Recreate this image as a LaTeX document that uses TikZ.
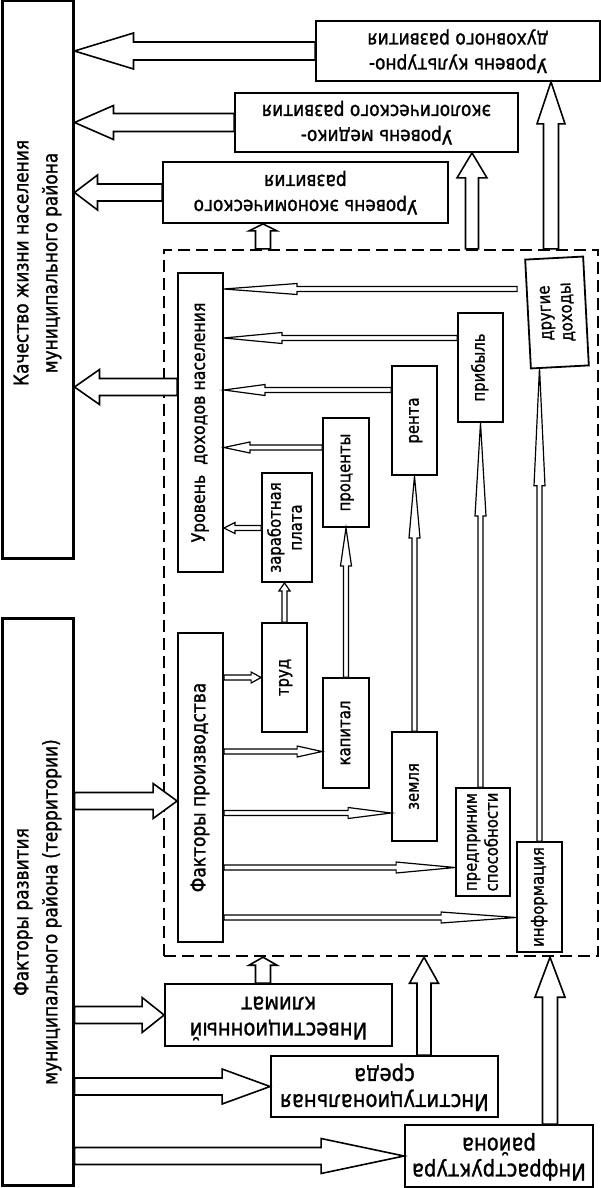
\documentclass[tikz,border=0pt]{standalone}
\usepackage{fontspec}
\setmainfont{DejaVu Sans}[FakeStretch=0.85, FakeBold=1.2]
\usepackage{graphicx}
\usetikzlibrary{calc}
\newcommand{\vlab}[1]{\rotatebox{90}{\begin{tabular}{@{}c@{}}#1\end{tabular}}}
\newcommand{\flab}[1]{\rotatebox{180}{\begin{tabular}{@{}c@{}}#1\end{tabular}}}
\tikzstyle{bar} = [rectangle, draw, line width=3pt, minimum width=71pt, inner sep=0pt]
\tikzstyle{bartext} = [inner sep=0pt, font=\fontsize{20}{29}\selectfont]
\tikzstyle{box} = [rectangle, draw, line width=1.8pt, fill=white, inner sep=0pt, text centered]
\tikzstyle{levelbox} = [box, minimum height=61pt, font=\fontsize{20}{25}\selectfont]
\tikzstyle{basebox} = [levelbox, font=\fontsize{23}{26}\selectfont]
\tikzstyle{incomebox} = [box, minimum width=45pt, font=\fontsize{18.5}{22}\selectfont]
\tikzstyle{smallbox} = [box, minimum width=45pt, minimum height=109pt, font=\fontsize{17.5}{21}\selectfont]
\tikzstyle{zone} = [rectangle, draw, line width=2.4pt, dash pattern=on 12pt off 6pt, minimum width=434pt, minimum height=706pt]
\tikzset{
  head len/.store in=\hdlen, head wd/.store in=\hdwd, shaft wd/.store in=\shwd, tail gap/.store in=\tlgap,
  head len=25, head wd=17.5, shaft wd=8.5, tail gap=0,
  hollow/.style={draw, fill=white, line width=1.6pt, to path={
    let \p1=(\tikztostart), \p2=(\tikztotarget),
        \n1={atan2(\y2-\y1,\x2-\x1)}, \n2={veclen(\x2-\x1,\y2-\y1)} in
    {[shift={(\p1)}, rotate=\n1]
      (\tlgap,-\shwd) -- (\n2-\hdlen,-\shwd) -- (\n2-\hdlen,-\hdwd) -- (\n2,0)
      -- (\n2-\hdlen,\hdwd) -- (\n2-\hdlen,\shwd) -- (\tlgap,\shwd) -- cycle}}},
  slim/.style={hollow, line width=1.2pt, head wd=5.5, shaft wd=2.5},
}

\begin{document}
\begin{tikzpicture}[x=1pt, y=-1pt]
\useasboundingbox (0,0) rectangle (601,1188);
% outer blocks
\node (quality) [bar, minimum height=557pt] at (37.5,279.5) {};
\node (qualitytxt) [bartext] at (37,263) {\vlab{Качество жизни населения\\муниципального района}};
\node (factors) [bar, minimum height=567pt] at (37.5,901.5) {};
\node (factorstxt) [bartext] at (37,912) {\vlab{Факторы развития\\муниципального района (территории)}};

\node (cult) [levelbox, minimum width=284pt, minimum height=60pt] at (458,51) {\flab{Уровень культурно-\\духовного развития}};
\node (med) [levelbox, minimum width=283pt, minimum height=59pt] at (376.5,122.5) {\flab{Уровень медико-\\экологического развития}};
\node (econ) [levelbox, minimum width=285pt] at (305.5,192.5) {\flab{Уровень экономического\\развития}};

\node (zone) [zone] at (381,603) {};

% incomes
\node (income) [incomebox, minimum height=299pt] at (200.5,422.5) {\vlab{Уровень\ \ доходов населения}};
\node (wage) [smallbox, minimum width=50pt] at (287,527.5) {\vlab{заработная\\плата}};
\node (interest) [smallbox, minimum width=46pt] at (346,472.5) {\vlab{проценты}};
\node (rent) [smallbox] at (414.5,420.5) {\vlab{рента}};
\node (profit) [smallbox] at (480.5,367.5) {\vlab{прибыль}};
\node (other) [smallbox, minimum width=58pt, rotate=3] at (557,312.5) {\vlab{другие\\доходы}};

% production factors
\node (prodf) [incomebox, minimum height=309pt, font=\fontsize{20}{24}\selectfont] at (200.5,787.5) {\vlab{Факторы производства}};
\node (labour) [smallbox] at (284.5,677.5) {\vlab{труд}};
\node (capital) [smallbox, minimum width=46pt, minimum height=110pt] at (346,733) {\vlab{капитал}};
\node (land) [smallbox] at (414.5,786.5) {\vlab{земля}};
\node (entre) [smallbox, minimum width=54pt, minimum height=108pt] at (483,842) {\vlab{предприним\\способности}};
\node (info) [smallbox, minimum height=110pt] at (539.5,897) {\vlab{информация}};

\node (invest) [basebox, minimum width=227pt, minimum height=62pt] at (278.5,1015) {\flab{Инвестиционный\\климат}};
\node (inst) [basebox, minimum width=227pt] at (384.5,1086.5) {\flab{Институциональная\\среда}};
\node (infra) [basebox, minimum width=188pt, minimum height=62pt] at (499,1156) {\flab{Инфраструктура\\района}};

\coordinate (toinc1) at ([yshift=133.5pt]income.east);
\coordinate (toinc2) at ([yshift=84.5pt]income.east);
\coordinate (toinc3) at ([yshift=32.5pt]income.east);
\coordinate (toinc4) at ([yshift=-25pt]income.east);
\coordinate (toinc5) at ([yshift=-105.5pt]income.east);
\coordinate (toqual) at ([yshift=35.5pt]income.west);
\coordinate (toprod) at ([yshift=-13.5pt]prodf.west);
\coordinate (tocap) at ([yshift=-18.5pt]capital.west);
\coordinate (toland) at ([yshift=-26.5pt]land.west);
\coordinate (toent) at ([yshift=-25.5pt]entre.west);
\coordinate (toinfo) at ([yshift=-20.5pt]info.west);
\coordinate (upecon) at ([xshift=-42.5pt]econ.south);
\coordinate (upmed) at ([xshift=95.5pt]med.south);
\coordinate (upcult) at ([xshift=93pt]cult.south);
\coordinate (upinv) at ([xshift=-15.5pt]invest.north);
\coordinate (upinst) at ([xshift=39.5pt]inst.north);
\coordinate (upinfra) at ([xshift=51pt]infra.north);

% wide arrows
\draw[hollow, head len=59, head wd=18, shaft wd=9] (cult.west) to (quality.east |- cult.west);
\draw[hollow, head len=39, head wd=17, shaft wd=9] (med.west) to (quality.east |- med.west);
\draw[hollow, head len=23] (econ.west) to (quality.east |- econ.west);
\draw[hollow] (toqual) to (quality.east |- toqual);
\draw[hollow, head len=24] (factors.east |- toprod) to (toprod);
\draw[hollow, head len=22] (factors.east |- invest.west) to (invest.west);
\draw[hollow, head len=48] (factors.east |- inst.west) to (inst.west);
\draw[hollow, head len=83] (factors.east |- infra.west) to (infra.west);
\draw[hollow, head len=7, head wd=14, shaft wd=7.5] (zone.north -| upecon) to (upecon);
\draw[hollow, head len=25, head wd=15, shaft wd=6.5] (zone.north -| upmed) to (upmed);
\draw[hollow, head len=42, head wd=14, shaft wd=7.5] (zone.north -| upcult) to (upcult);
\draw[hollow, head len=8, head wd=14, shaft wd=7.5] (upinv) to (zone.south -| upinv);
\draw[hollow, head len=26, head wd=14.5, shaft wd=7] (upinst) to (zone.south -| upinst);
\draw[hollow, head len=40, head wd=15, shaft wd=7.5] (upinfra) to (zone.south -| upinfra);

% thin arrows
\draw[slim, head len=73, tail gap=10] (other.west |- toinc1) to (toinc1);
\draw[slim, head len=58] (profit.west |- toinc2) to (toinc2);
\draw[slim, head len=41] (rent.west |- toinc3) to (toinc3);
\draw[slim, head len=26] (interest.west |- toinc4) to (toinc4);
\draw[slim, head len=11] (wage.west |- toinc5) to (toinc5);
\draw[slim, head len=8] (labour.north) to (labour.north |- wage.south);
\draw[slim, head len=38] (capital.north) to (capital.north |- interest.south);
\draw[slim, head len=62] (land.north) to (land.north |- rent.south);
\draw[slim, head len=93] (profit.south |- entre.north) to (profit.south);
\draw[slim, head len=118] (info.north) to (info.north |- other.south);
\draw[slim, head len=10] (prodf.east |- labour.west) to (labour.west);
\draw[slim, head len=25] (prodf.east |- tocap) to (tocap);
\draw[slim, head len=43] (prodf.east |- toland) to (toland);
\draw[slim, head len=59] (prodf.east |- toent) to (toent);
\draw[slim, head len=75] (prodf.east |- toinfo) to (toinfo);
\end{tikzpicture}
\end{document}
